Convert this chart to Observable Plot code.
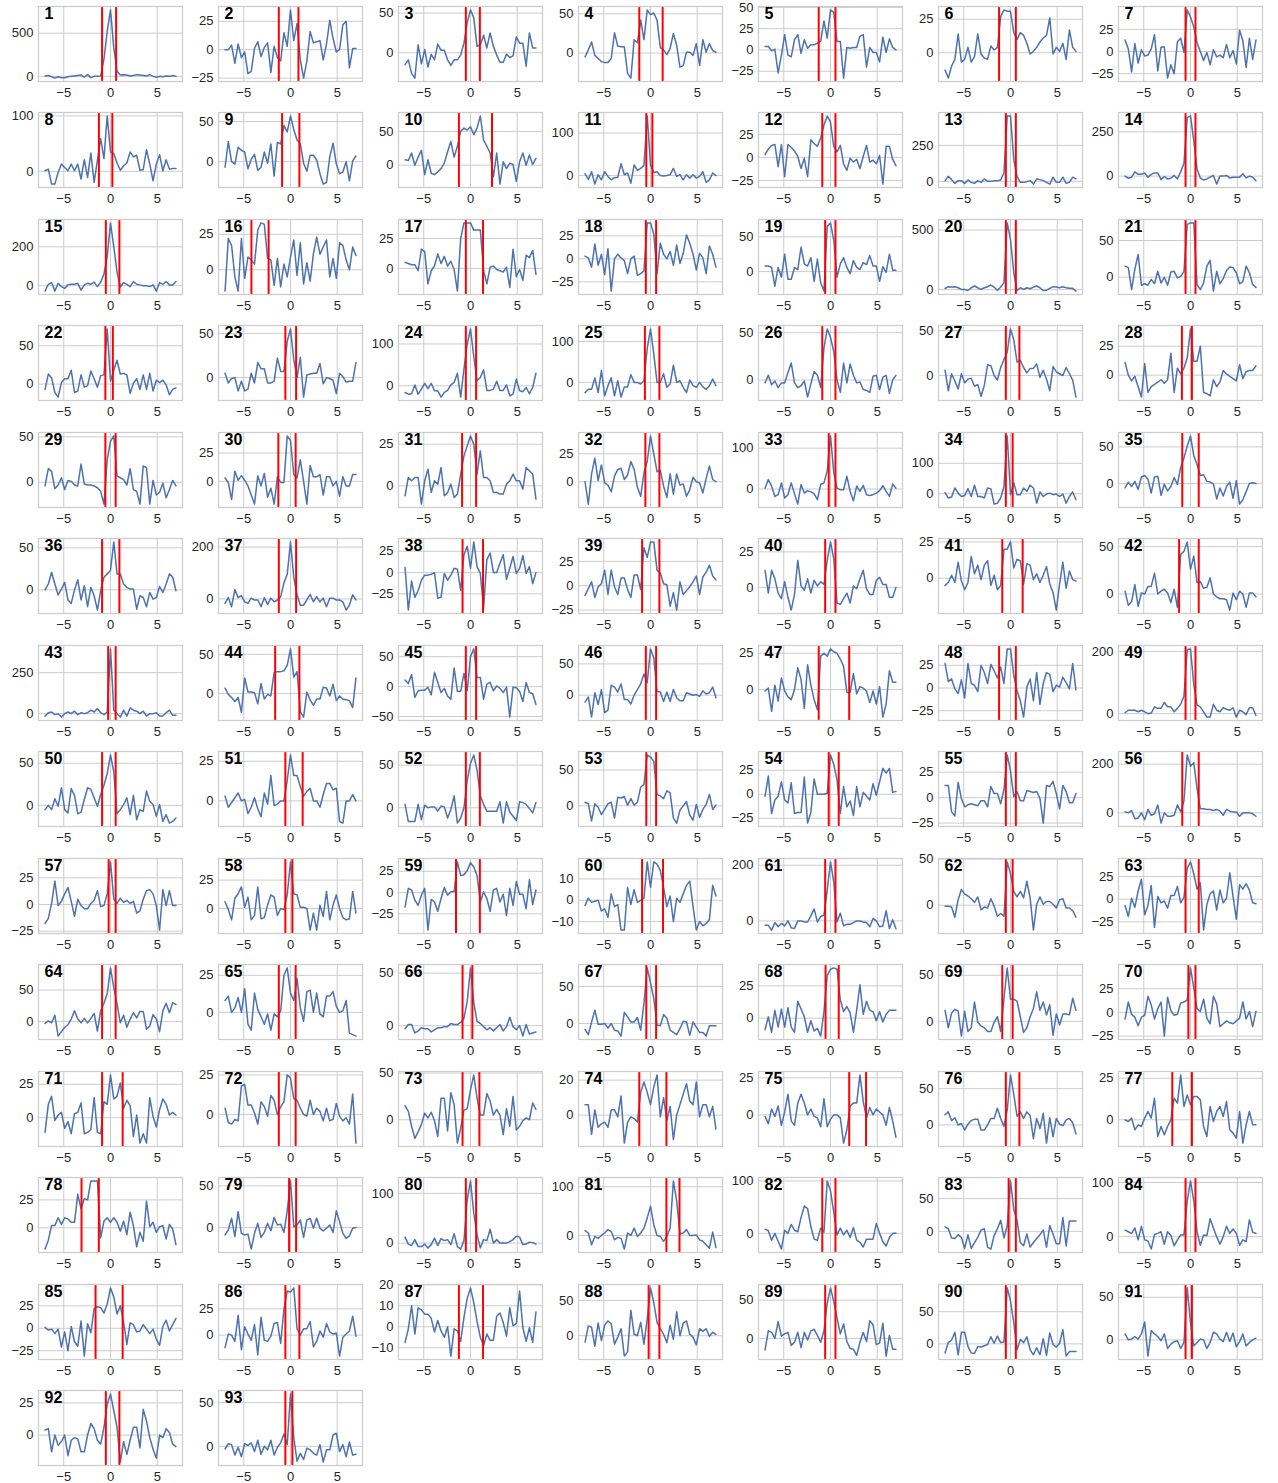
<!DOCTYPE html>
<html>
<head>
<meta charset="utf-8">
<script src="https://cdn.jsdelivr.net/npm/d3@7"></script>
<script src="https://cdn.jsdelivr.net/npm/@observablehq/plot@0.6"></script>
<style>
  html, body { margin: 0; padding: 0; background: #ffffff; }
  #chart { position: relative; width: 1278px; height: 1483px; background: #ffffff; }
  #chart svg { position: absolute; }
</style>
</head>
<body>
<div id="chart"></div>
<script>
// ---- data ----
const lags = [-7,-6.65,-6.3,-5.95,-5.6,-5.25,-4.9,-4.55,-4.2,-3.85,-3.5,-3.15,-2.8,-2.45,-2.1,-1.75,-1.4,-1.05,-0.7,-0.35,0,0.35,0.7,1.05,1.4,1.75,2.1,2.45,2.8,3.15,3.5,3.85,4.2,4.55,4.9,5.25,5.6,5.95,6.3,6.65,7];

const xTicks = [-5, 0, 5];

const panelLabels = [1,2,3,4,5,6,7,8,9,10,11,12,13,14,15,16,17,18,19,20,21,22,23,24,25,26,27,28,29,30,31,32,33,34,35,36,37,38,39,40,41,42,43,44,45,46,47,48,49,50,51,52,53,54,55,56,57,58,59,60,61,62,63,64,65,66,67,68,69,70,71,72,73,74,75,76,77,78,79,80,81,82,83,84,85,86,87,88,89,90,91,92,93];

const cutoffs = [
[-0.9,0.6],[-1.25,0.85],[-0.5,1.0],[-1.2,1.3],[-1.26,0.53],[-1.22,0.57],[-0.53,0.53],
[-1.24,0.2],[-0.9,0.95],[-1.24,2.3],[-0.45,0.2],[-0.88,0.53],[-0.5,0.57],[-0.53,0.53],
[-0.5,0.95],[-4.18,-2.34],[-0.5,1.34],[-0.5,0.6],[-0.57,0.53],[-0.5,0.57],[-0.53,0.53],
[-0.55,0.25],[-0.55,0.6],[-0.5,0.6],[-0.6,0.95],[-0.88,0.53],[-0.5,0.95],[-0.92,0.15],
[-0.55,0.55],[-1.3,0.55],[-0.9,0.6],[-0.55,0.95],[-0.19,0.53],[-0.5,0.23],[-0.88,0.88],
[-0.9,0.95],[-1.25,0.6],[-0.85,1.34],[-0.9,0.95],[-0.57,0.53],[-0.88,1.3],[-1.22,0.88],
[-0.25,0.55],[-1.64,0.95],[-0.5,0.6],[-0.5,0.6],[-1.26,2.0],[-1.22,0.57],[-0.53,0.53],
[-0.9,0.55],[-0.55,1.3],[-0.5,1.0],[-0.45,0.6],[-0.19,0.88],[-0.5,0.57],[-0.88,0.88],
[-0.2,0.55],[-0.55,0.2],[-1.55,1.0],[-0.9,1.34],[-0.57,0.53],[-0.5,0.23],[-0.53,0.88],
[-0.9,0.55],[-1.25,0.55],[-0.85,0.2],[-0.45,0.6],[-0.53,0.88],[-0.88,0.23],[-0.23,0.53],
[-0.9,1.3],[-1.25,0.55],[-0.85,0.95],[-1.2,1.7],[2.0,3.8],[-0.5,0.95],[-1.95,0.15],
[-3.1,-1.25],[-0.15,0.6],[-0.5,0.6],[1.7,3.1],[-0.88,0.53],[-0.2,0.57],[-0.53,0.53],
[-1.6,1.3],[-0.55,0.95],[-1.24,1.34],[-0.2,0.95],[-0.57,0.53],[-0.5,0.57],[-0.53,0.15],
[-0.5,0.95],[-0.55,0.2]
];

const yTicks = [
[0,500],[-25,0,25],[0,50],[0,50],[-25,0,25,50],[0,25],[-25,0,25],
[0,100],[0,50],[0,50],[0,100],[-25,0,25],[0,250],[0,250],
[0,200],[0,25],[0,25],[-25,0,25],[0,50],[0,500],[0,50],
[0,50],[0,50],[0,100],[0,100],[0,50],[0,50],[0,25],
[0,50],[0,25],[0,25],[0,25],[0,100],[0,100],[0,50],
[0,50],[0,200],[-25,0,25],[-25,0,25],[0,25],[0,25],[0,50],
[0,250],[0,50],[-50,0,50],[0,50],[0,25],[-25,0,25],[0,200],
[0,50],[0,25],[0,50],[0,50],[-25,0,25],[-25,0,25],[0,200],
[-25,0,25],[0,25],[-25,0,25],[-10,0,10],[0,200],[0,50],[-25,0,25],
[0,50],[0,25],[0,50],[0,50],[0,25],[0,50],[-25,0,25],
[0,25],[0,25],[0,50],[0,20],[0,25],[0,50],[0,25],
[0,25],[0,50],[0,100],[0,100],[0,100],[0,50],[0,100],
[-25,0,25],[0,25],[-10,0,10,20],[0,50],[0,50],[0,50],[0,50],
[0,25],[0,50]
];

const series = [
[5,10,-5,-20,-5,-15,-15,-5,0,5,10,15,-10,20,-15,0,0,5,200,520,770,330,60,15,20,15,5,10,20,15,10,5,20,0,-10,0,-5,5,0,10,0],
[0,0,4,-12,5,-7,-2,-21,-19,1,7,-6,2,6,-20,3,-7,-10,15,3,35,8,23,-9,-25,-10,16,6,7,8,-9,5,26,10,-2,0,22,25,-16,1,1],
[-15,-9,-26,-32,10,-14,4,-18,-2,-9,11,3,3,-9,-16,-9,-9,-3,12,38,54,44,8,10,22,6,25,8,-3,-12,-12,-2,-6,-4,20,12,12,-17,25,6,6],
[-5,4,14,-3,-7,-11,-12,-12,-7,26,9,8,8,-26,-32,17,13,42,17,55,49,51,42,7,4,-2,6,25,10,-18,-16,1,1,-3,12,-16,17,1,12,3,1],
[4,4,-1,1,-27,-6,18,-6,-8,12,18,-4,12,2,6,6,8,10,34,14,47,44,10,10,-33,3,2,3,3,16,18,-20,3,-3,-3,-14,15,-3,13,3,0],
[-13,-19,-10,-5,14,-7,-5,4,-7,-3,14,-1,-4,-5,5,2,4,27,32,31,31,15,10,15,13,7,-1,1,4,8,11,13,26,-1,4,1,7,-5,17,4,1],
[13,3,-23,9,-13,2,-5,-4,3,19,-22,5,5,-30,-15,-25,11,15,-1,47,39,28,10,0,-10,-1,-15,2,-6,-4,-7,8,-7,1,-14,24,12,-18,15,-9,13],
[1,4,-23,-23,-2,13,7,1,13,1,13,-14,21,-11,33,-20,20,59,23,100,35,32,15,2,10,15,35,26,29,2,3,39,13,-17,13,30,1,21,4,5,5],
[-7,25,0,-3,18,14,12,-9,3,9,-11,-7,12,-2,22,-18,24,22,45,37,57,40,27,22,-2,-12,8,8,2,-15,-28,-26,6,23,-3,-15,-13,0,-24,1,7],
[8,7,18,0,12,22,-14,8,-12,-14,-10,-5,3,20,35,12,28,50,55,52,57,45,55,73,37,28,18,-17,18,-28,5,-5,3,1,-24,5,18,0,15,1,10],
[4,-9,9,-20,2,-10,9,-2,-10,-5,-4,28,2,6,-18,25,12,17,24,140,25,7,9,0,-1,0,2,17,-2,2,-10,2,-6,2,-6,-2,9,-16,-10,6,0],
[3,9,13,14,-10,14,-21,14,11,7,1,-12,-1,-21,19,15,12,21,35,45,38,12,6,13,-7,-14,-1,-5,-2,-12,1,13,-5,-3,-7,2,-29,12,12,-2,-9],
[5,36,12,-14,5,5,-14,10,-7,-14,5,-7,17,0,0,5,5,10,60,455,455,150,35,-7,-7,-2,5,-19,17,12,5,-7,-19,29,-7,-7,29,-14,-7,29,17],
[0,-12,-6,24,10,10,18,-6,10,18,18,-20,-2,-16,-12,4,-16,24,73,330,340,200,40,-10,-22,-16,-6,4,-45,0,0,4,-10,-6,-6,-6,14,-10,0,-6,-26],
[-28,7,16,-28,12,-5,-14,4,7,7,12,-23,4,12,7,18,-5,18,60,150,323,200,70,-7,16,7,-5,21,7,4,0,0,-5,4,-28,16,7,21,4,4,21],
[-15,22,17,-5,-15,22,-6,9,7,4,28,33,32,8,7,-11,8,-12,4,-5,9,21,-4,19,-10,5,-8,11,23,11,16,21,-5,8,-6,19,17,7,0,16,10],
[5,4,3,3,-2,16,14,-13,-2,2,12,4,10,2,6,-1,-19,25,38,38,38,32,32,32,-2,-13,1,2,-1,-2,-3,1,-16,16,-7,-1,-10,11,9,15,-5],
[3,1,-9,16,-7,5,-17,11,-35,0,5,1,-2,-16,0,3,-18,-16,-13,39,39,27,-16,17,5,0,8,-7,15,-5,6,26,17,5,-12,6,1,-16,14,5,-9],
[8,8,6,-21,6,-8,25,-11,-11,6,3,35,11,8,20,-14,18,-16,-28,65,70,45,-8,11,20,6,-3,16,6,3,13,10,23,8,8,-14,7,-1,25,2,2],
[8,23,20,23,14,0,0,-9,14,29,14,0,14,23,37,20,-9,20,57,560,420,140,-9,14,0,14,6,20,29,14,-9,-6,9,23,20,14,23,14,9,9,-14],
[15,13,-17,11,31,-11,-9,-11,-3,-9,8,-8,0,-11,7,8,-1,1,8,72,74,74,-10,-17,-8,15,23,-19,8,-9,-2,9,14,13,6,-9,-6,15,6,-10,-14],
[-7,13,8,-11,-17,2,7,7,18,-11,-9,12,-4,-2,17,7,-4,11,12,72,4,18,31,13,14,12,-12,1,7,-7,12,-7,14,-9,5,2,5,-1,-14,-7,-5],
[5,-6,-1,0,-15,-4,-15,-13,5,-6,17,10,10,-6,-6,-4,22,7,7,41,55,20,0,23,-22,3,4,5,5,16,-7,0,-1,-3,-18,5,1,-5,-4,-4,17],
[-16,-20,-19,2,-20,-8,6,-7,6,-12,-12,-27,-16,-11,2,8,30,-27,40,100,136,70,12,20,38,-11,-11,-8,11,-11,-11,2,-24,-20,16,-12,-14,-4,-19,-4,30],
[-25,-17,-17,11,-25,29,-33,-8,11,-33,4,-36,-11,-11,19,0,0,-4,4,83,131,70,0,0,21,-12,-4,42,0,4,-12,-25,6,-8,-12,0,-11,-17,-8,8,-8],
[-3,5,-5,-1,-8,-3,-3,8,18,-3,-8,-6,-1,-18,-4,9,5,-8,34,54,45,30,0,-13,18,-3,17,5,-3,-2,-10,-11,-13,4,5,-10,3,5,-14,0,5],
[6,-17,2,-6,-15,2,-8,-4,-3,-12,-10,-23,-11,12,11,0,-5,9,18,26,52,40,15,17,9,3,8,8,13,-2,6,-4,-17,10,4,2,0,9,2,-5,-24],
[11,0,-5,-1,-10,-19,10,-15,-10,-8,-6,-4,-7,-4,19,-15,6,1,6,15,40,12,12,25,-15,-16,-18,-4,-10,-6,4,1,-1,-3,-5,9,-3,3,4,4,8],
[-4,15,12,-7,-3,5,-8,2,1,-3,-4,20,-2,-3,-3,-4,-6,-10,-24,25,45,51,7,5,3,-3,15,-8,-10,-24,18,16,-24,2,-14,-11,-1,-17,-8,2,-4],
[3,-1,-16,9,1,5,1,-4,-12,-20,5,-4,7,-14,-6,-20,4,-1,-1,40,36,6,3,19,0,-20,14,4,4,6,-12,4,4,-4,0,-13,4,-4,-4,6,6],
[-6,5,3,5,5,-11,3,10,-4,3,1,11,-6,-4,1,-7,-5,7,18,24,30,25,7,21,5,5,3,-4,-4,-5,-5,1,3,7,3,3,-2,11,9,7,-8],
[0,-20,7,21,1,15,-1,-3,-9,5,11,12,2,6,18,11,-5,-13,8,18,41,25,9,10,-4,-14,7,-11,7,-3,-2,-13,-7,4,0,-1,-10,3,14,2,0],
[2,23,7,-18,-14,15,-22,-14,15,-12,-37,11,-10,-4,-7,-12,-26,11,15,44,130,40,2,-2,-2,31,-6,-29,7,-6,9,-14,-16,-14,-10,-4,8,-6,-18,12,2],
[4,-14,-11,19,2,-9,-6,17,-9,28,-9,-9,-14,19,16,-34,-31,-14,24,190,-3,36,-3,-3,19,8,28,19,-31,6,-9,-1,2,-3,-1,-9,-1,-31,-9,6,-20],
[-6,2,-4,3,-8,9,11,6,-13,9,10,-16,-1,-10,-4,8,-1,22,35,51,65,38,26,11,12,3,2,0,-21,-6,-17,-4,2,-20,4,-28,-22,-11,0,1,0],
[0,7,21,7,-6,1,9,-12,-16,0,12,-12,5,-20,3,-7,-24,-1,15,19,23,57,19,19,7,3,1,1,-23,-7,-9,-20,-3,-11,-9,4,-3,7,19,15,-1],
[-17,5,-30,36,5,13,-11,-17,3,-4,-4,-30,5,-21,3,-11,-4,9,62,95,220,82,16,-24,-24,-4,18,-11,9,-11,3,-30,3,3,-4,-4,-11,-43,-24,16,-4],
[6,-44,-10,-29,-21,-9,-3,-3,-2,0,-30,-29,-1,-9,-3,5,4,-21,21,31,5,36,7,-1,-42,15,23,0,0,11,21,-8,5,19,-1,5,20,-1,7,-13,0],
[-10,-3,4,-12,-1,2,16,-9,16,-1,-9,8,8,-4,-12,11,11,-4,39,29,45,45,16,13,2,1,-21,-7,-25,4,-9,-5,-1,4,10,-9,9,14,21,10,6],
[12,-4,12,6,-4,-8,4,-7,-16,-5,19,1,-2,6,-4,5,1,4,2,19,32,20,-11,-12,-8,-4,-11,1,-1,6,12,-1,-5,-5,5,7,2,2,-7,-7,0],
[-5,-3,2,-3,11,-2,-8,-3,15,3,9,-1,9,12,-5,2,-8,-5,20,20,25,7,13,12,-4,10,9,-1,3,-3,2,8,-4,-10,-22,-4,11,-7,5,-1,-2],
[3,-12,-8,10,-13,1,0,8,8,22,0,3,5,1,-9,5,-14,42,45,55,26,40,12,13,6,7,17,0,-3,-5,-5,-6,-17,1,-6,3,0,-14,1,1,-3],
[-15,6,10,-6,0,-21,0,10,0,15,-6,6,0,6,21,10,31,6,-6,10,395,21,0,-21,21,-15,35,21,15,0,15,-15,0,0,6,-15,-15,6,21,-10,-10],
[7,-1,-5,-10,-5,-24,20,2,2,1,-13,13,-7,-1,-3,27,28,28,29,36,57,21,28,-23,-30,2,-8,-15,-7,-7,8,7,-3,12,-9,-3,-7,-8,-9,-18,20],
[11,5,20,-18,-7,-6,-6,-1,-14,24,7,-10,-3,-16,-21,31,-8,-8,22,-7,50,63,15,15,-21,4,7,-7,1,-3,-10,-1,-51,-1,-2,-8,-25,7,-10,-12,-30],
[-11,-3,-35,4,-15,9,-28,-24,16,13,5,18,-7,-7,-14,0,9,18,34,20,74,60,6,5,-10,5,-10,9,-4,-9,-9,4,2,0,1,-2,7,2,4,13,-4],
[-1,1,-15,3,-8,8,-1,-5,-7,0,15,7,-13,17,3,-7,-14,23,25,23,28,26,25,21,16,-2,-2,11,-3,2,1,-1,-9,-1,-10,2,-19,-10,13,5,5],
[27,7,10,-1,-6,9,-11,27,5,3,-4,25,17,5,26,19,11,23,5,43,43,14,-3,-14,-32,1,10,-14,17,-18,5,17,15,-4,3,1,12,6,-1,27,-2],
[3,11,11,11,6,11,6,0,2,22,17,17,36,22,22,6,17,30,56,206,208,94,28,22,6,-11,-11,30,11,6,19,14,11,19,-11,11,6,-3,19,19,-6],
[-5,0,-5,8,-1,21,-5,-9,20,12,-10,-8,7,21,19,9,-1,13,24,38,60,40,-10,-5,1,9,-11,12,-17,-5,-7,17,5,1,-13,1,-19,-11,-21,-19,-15],
[3,-4,-1,2,5,0,1,-8,-4,2,-5,-10,5,-2,16,-3,-2,0,0,13,29,16,16,9,3,6,8,0,0,-4,4,11,11,7,8,-13,-14,0,0,4,0],
[4,-16,-16,-16,4,-14,3,0,1,1,-4,2,1,-12,-2,14,-18,-12,0,32,52,62,44,14,4,-4,-4,-4,-4,7,-18,7,-5,-10,-15,7,6,4,-1,-6,6],
[5,3,-21,3,-2,-12,-5,3,5,-17,12,11,13,1,10,1,5,26,30,71,68,62,16,14,10,21,18,-17,-24,-6,0,6,-13,-20,2,-16,-5,2,16,-5,1],
[-2,19,-20,-6,-2,13,-6,-9,12,-20,-19,-19,18,-30,-19,16,0,0,0,1,41,31,15,-20,8,-13,-7,-22,8,-13,2,-2,-6,11,-1,13,27,22,27,2,3],
[12,12,-14,-18,15,-1,-9,-7,-6,-7,-8,-3,-3,-9,11,4,4,-6,8,42,26,1,6,-3,-3,7,6,5,6,-1,-25,12,11,16,4,-11,12,6,-5,-5,4],
[4,0,10,-24,-21,0,-28,14,-10,-4,32,-42,0,-14,-14,-10,32,4,49,238,192,206,100,17,17,14,14,10,14,7,-10,14,7,4,4,-14,0,0,0,-4,-14],
[-18,-13,1,22,-1,3,10,16,3,-11,5,-1,-4,-4,1,4,13,-2,-1,10,40,5,1,6,2,4,1,3,-8,-6,5,13,14,10,-1,-24,14,-1,13,-1,-1],
[6,-1,-10,9,13,19,1,10,-10,-6,19,-9,-8,3,12,10,-6,0,-1,12,41,13,12,1,1,0,-19,-4,-19,3,-7,15,-10,3,12,0,-8,-10,-9,15,-4],
[-17,5,3,-9,-15,-3,5,-44,-8,-11,-22,-7,6,-3,1,1,36,20,21,26,35,30,20,-11,1,-7,-22,3,5,-11,-2,-27,5,-15,13,-2,-2,-19,15,-14,3],
[-2.5,1,-1,-0.5,0,-5,-4,-8,3,-3,-2,-14,-14,6,-2,5,-1,0,1,18,6,18,17,14,6,-3,2,-10,1,-1,3,7,9,-3,-14,-10,-12,-11,-9,7,2],
[-16,-16,-33,-6,-21,-9,-18,0,-25,-27,0,0,-4,-4,18,43,-4,16,21,110,212,140,-4,28,-18,-12,-12,-6,0,0,-4,-6,-21,9,0,-21,-18,37,-28,4,-28],
[-1,-1,-2,-13,6,17,12,10,7,3,9,-5,-2,-3,7,-1,-12,-9,-12,47,34,15,9,15,8,26,8,-27,1,9,1,4,4,1,-3,6,7,-3,-3,-6,-13],
[-7,-19,1,-9,9,22,-17,-7,15,-31,3,-4,-2,-10,4,4,14,-4,2,34,41,28,11,18,-34,-6,6,9,-12,10,-4,1,29,3,-22,16,11,17,10,-4,-5],
[-3,1,-2,10,-23,-16,-9,-5,4,17,4,-2,5,-2,5,13,-15,17,29,44,85,54,28,-2,10,-9,4,14,6,16,16,-12,-7,11,4,-16,17,29,14,30,27],
[8,11,0,3,10,0,16,-8,-12,13,2,-3,-8,-1,-12,-1,-3,1,25,30,13,8,23,3,-6,14,15,0,13,-1,-3,11,11,14,4,0,1,8,-14,-15,-16],
[-3,1,1,-7,-5,-2,-3,-3,-6,-4,-2,-2,-1,-1,2,1,1,3,7,23,55,22,4,2,-1,-4,-2,-5,-2,1,-5,-1,8,-1,-4,0,-10,1,-8,-7,-6],
[-8,-15,2,18,-1,-1,0,-6,0,-9,-10,-17,15,9,2,2,8,-9,27,75,55,34,-2,-3,12,7,-9,-12,-15,-7,3,2,-16,2,-5,-12,-12,-17,-3,-3,-3],
[-9,1,-11,6,-7,7,-7,8,-7,-11,13,7,1,-11,-2,-10,-8,-14,5,33,38,39,38,14,5,9,4,-11,6,26,3,13,6,5,-2,5,-3,3,6,6,6],
[12,-7,9,13,11,-16,11,-11,-7,21,-1,-5,-7,-11,-11,-1,5,-11,25,58,24,24,22,5,-12,-7,5,14,32,12,21,7,18,-15,8,-4,8,8,7,25,12],
[-7,11,-2,-5,-14,-5,-3,17,8,-7,4,11,-25,16,2,-3,-2,10,11,13,47,26,4,1,14,-6,-12,17,9,-15,-12,-9,-11,-12,-9,-6,11,-7,1,-15,1],
[-11,10,16,-2,2,4,-8,-3,-12,3,4,11,-12,-11,-9,15,-11,-12,12,10,32,14,16,26,7,13,9,-14,2,-19,-12,-19,15,1,-7,6,14,10,2,4,2],
[4,-5,-6,-3,-4,18,19,6,6,1,-6,8,5,-1,12,9,0,5,8,25,23,10,9,4,0,-1,9,0,4,2,-4,4,-4,-3,7,-1,-4,-2,-6,13,-18],
[15,9,-7,-20,-13,-5,7,2,8,-1,-18,23,23,-12,29,16,-25,-9,10,12,32,48,23,5,5,28,20,5,11,5,-16,12,-7,25,-11,-7,-1,2,0,18,11],
[6,6,-11,3,-7,-5,-4,-7,3,3,-1,11,-16,-4,-1,-2,-4,13,19,13,6,16,23,-1,10,-3,5,-14,0,6,12,18,8,6,19,-1,6,6,-1,5,-8],
[-1,-6,4,-1,6,-7,2,14,-4,-7,8,14,8,0,4,-1,-2,-8,11,-8,-3,0,0,-2,-19,-10,6,8,8,27,9,-2,5,0,4,2,0,-7,5,-4,-15],
[14,18,6,10,0,2,-7,1,6,8,8,-7,-7,0,9,9,23,9,-2,20,69,42,12,18,9,18,13,-19,9,-5,16,-25,10,-16,9,1,-1,7,9,3,-12],
[0,-1,1,-6,-3,-4,1,5,1,13,-10,-4,-9,-4,0,13,10,27,8,15,9,14,14,12,-4,-10,8,-1,5,8,2,11,-6,-8,-11,5,-14,-3,5,-3,-3],
[-19,-11,2,2,9,3,9,8,5,5,30,17,26,25,42,42,42,-9,6,9,5,9,5,-3,6,-6,14,2,-17,-4,-12,24,1,5,-4,1,2,-10,3,-1,-15],
[-9,-3,11,-11,19,-7,-9,-8,-26,-7,5,-12,-6,5,-4,12,3,4,-6,20,56,1,3,9,-12,9,11,-1,11,-1,-4,-1,3,-6,20,7,-7,-13,-10,-1,0],
[12,-2,-5,7,-7,-7,-2,-10,-3,10,-5,9,5,7,-3,19,-7,-12,5,87,125,60,17,-10,7,5,28,0,7,0,0,0,3,7,14,12,-3,-2,2,1,-2],
[10,5,-19,-2,-6,0,5,12,8,-9,-4,-6,-28,5,0,15,-2,5,15,36,60,22,0,-2,-12,-2,15,112,71,3,5,12,0,0,1,-9,-12,-19,-26,7,-25],
[8,5,-13,0,-15,-30,6,0,17,6,3,30,52,47,13,-11,-13,10,2,100,81,40,-3,10,-3,6,-8,11,-13,-17,-26,-11,-11,-11,19,0,-16,-24,-8,0,0],
[7,4,-10,-11,-5,-9,-26,-5,-26,-17,-9,2,4,-24,-27,-6,4,17,-10,9,77,33,17,-17,-22,-4,-24,-17,-11,-5,2,-24,9,-4,-19,-19,21,-22,16,16,16],
[12,9,6,16,-6,19,-6,-8,-23,4,6,9,-14,9,2,-17,-6,3,3,66,103,66,9,-16,3,2,33,16,0,-14,0,19,6,14,6,-16,-6,-9,31,8,6],
[1,-2,-1,-6,-1,-21,-4,-25,2,-15,-20,8,-31,5,-5,22,24,23,17,27,45,35,16,25,7,-18,6,4,-4,-3,4,-1,-6,-1,-12,-19,2,9,-3,4,11],
[-12,1,0,-6,19,-14,8,1,-5,10,-19,17,-5,-6,-1,11,12,-8,25,42,41,45,6,0,6,6,13,-11,-6,4,-2,11,3,1,2,-20,-2,1,4,18,-1],
[-7.5,-1,10,-3.5,9,8,6,6,4,-2.5,3,-2,-5,0,-14,-1,-2,-7,4.5,13.5,18.5,11.5,2.5,-5,-9,-3.5,-6.5,-6.5,5,6.5,2,-4.5,9,0.5,1.5,17,-0.5,-7,-0.5,-7.5,7],
[-9,14,12,-15,18,-7,15,21,17,-12,-2,10,-29,-23,36,2,0,19,-12,24,68,47,19,10,2,-10,15,-5,34,0,18,21,2,-2,-13,10,6,10,-1,5,2],
[-15,10,8,0,22,3,6,8,-9,-5,8,-12,8,-2,10,12,4,-5,10,46,66,48,27,6,19,-4,-13,-14,-22,-5,8,-4,23,18,-8,-6,20,-23,4,-14,-14],
[-14,2,6,18,-17,18,18,-4,-14,-15,-4,-5,-3,-1,11,1,12,2,3,87,67,33,-9,7,2,11,-9,-17,-6,-17,8,-18,17,-1,-5,1,22,-19,-12,-12,-12],
[7,0,1,4,1,7,21,-19,11,7,4,-1,7,-10,-5,-2,-1,-10,-3,61,20,-7,-3,1,0,-10,-3,9,7,1,-2,9,-2,8,-8,-2,7,-7,-3,0,2],
[4,5,-13,0,-8,-5,0,-16,-4,-2,-3,-13,-13,0,9,5,-4,-7,6,24,32,19,6,-21,-5,-15,-4,6,6,-10,20,11,-2,-11,-18,0,-2,5,2,-7,-9],
[-3,3,2,-10,-1,-12,3,1,4,-6,7,-9,0,-4,7,-10,-1,4,14,2,60,10,-17,-8,-15,-2,-4,-8,-10,2,-18,-4,-4,13,15,-6,2,-12,5,-10,-9]
];

// ---- drawing ----
const blue = "#4c72b0";
const gridColor = "#cccccc";
const fontFamily = "'Liberation Sans', Arial, Helvetica, sans-serif";
const fmt = d => (d < 0 ? "\u2212" + Math.abs(d) : String(d));
const nCols = 7, colStep = 180, rowStep = 106.46;

const container = document.getElementById("chart");

series.forEach((vals, i) => {
  const col = i % nCols, row = Math.floor(i / nCols);
  const data = vals.map((v, j) => ({lag: lags[j], value: v})).filter(d => d.lag !== undefined);
  const lo = d3.min(vals), hi = d3.max(vals);
  const pad = (hi - lo) * 0.05;
  const yDomain = [lo - pad, hi + pad];
  const yt = yTicks[i].filter(t => t >= yDomain[0] && t <= yDomain[1]);

  const svg = Plot.plot({
    width: 184,
    height: 106,
    marginLeft: 38,
    marginRight: 2,
    marginTop: 6,
    marginBottom: 25,
    style: {
      background: "transparent",
      fontFamily,
      fontSize: "13px",
      color: "#262626",
      overflow: "visible"
    },
    x: {domain: [-7.7, 7.7], ticks: xTicks, tickSize: 0, tickPadding: 6, tickFormat: fmt, label: null},
    y: {domain: yDomain, ticks: yt, tickSize: 0, tickPadding: 5, tickFormat: fmt, label: null},
    marks: [
      Plot.ruleX(xTicks, {stroke: gridColor, strokeWidth: 1}),
      Plot.ruleY(yt, {stroke: gridColor, strokeWidth: 1}),
      Plot.line(data, {x: "lag", y: "value", stroke: blue, strokeWidth: 1.5}),
      Plot.ruleX(cutoffs[i], {stroke: "red", strokeWidth: 2}),
      Plot.frame({stroke: gridColor, strokeWidth: 1.25}),
      Plot.text([String(panelLabels[i])], {
        frameAnchor: "top-left",
        text: d => d,
        dx: 6,
        dy: 1,
        textAnchor: "start",
        lineAnchor: "top",
        fontSize: 16,
        fontWeight: "bold",
        fill: "#000000"
      })
    ]
  });
  svg.style.left = (col * colStep) + "px";
  svg.style.top = Math.round(row * rowStep) + "px";
  container.appendChild(svg);
});
</script>
</body>
</html>
